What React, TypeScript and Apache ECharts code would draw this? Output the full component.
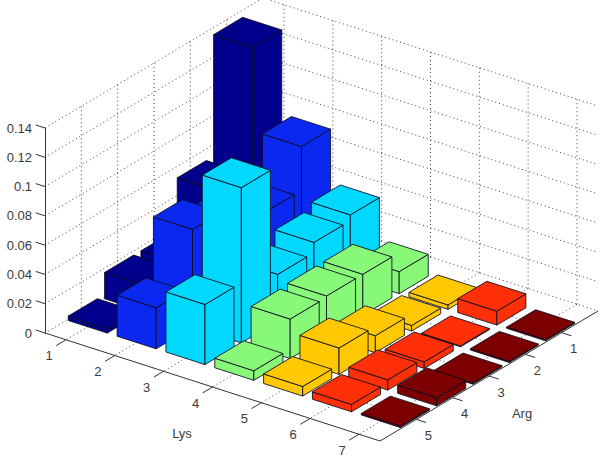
import React, { useEffect, useRef } from "react";
import * as echarts from "echarts";

// Bar heights: each list holds one Lys category, ordered Arg 1..5
const lys1 = [0.136, 0.053, 0.018, 0.018, 0.003];
const lys2 = [0.079, 0.049, 0.058, 0.0667, 0.028];
const lys3 = [0.043, 0.039, 0.032, 0.106, 0.041];
const lys4 = [0.015, 0.028, 0.028, 0.027, 0.0065];
const lys5 = [0.003, 0.0038, 0.0116, 0.018, 0.0065];
const lys6 = [0.0095, 0.0006, 0.0045, 0.007, 0.005];
const lys7 = [0.0008, 0.0008, 0.0008, 0.0055, 0.001];

const lysSeries = [lys1, lys2, lys3, lys4, lys5, lys6, lys7];
const argCategories = [1, 2, 3, 4, 5];
const lysCategories = [1, 2, 3, 4, 5, 6, 7];
const zTicks = [0, 0.02, 0.04, 0.06, 0.08, 0.1, 0.12, 0.14];
const barColors = ["#00008c", "#0a28f0", "#00d8ff", "#88f878", "#ffc800", "#ff3008", "#7d0000"];
const lysTitle = "Lys";
const argTitle = "Arg";

// Oblique projection of the 3-D box onto the plane
const LYS_LO = 0.57, LYS_HI = 7.43, ARG_LO = 0, ARG_HI = 6, Z_MAX = 0.14;
const ORIGIN_X = 45, ORIGIN_Y = 333, Z_PX = 205;
const LYS_DX = 335, LYS_DY = 108, ARG_DX = 218, ARG_DY = -130;
const BAR = 0.4;
const FONT = "13px 'Liberation Sans', Arial, sans-serif";
const TEXT = "#3a3a3a";
const AXIS = "#333333";
const EDGE = "rgba(10,10,30,0.85)";

// returns [pixel x, y in z units] so the value axis maps it
function project(lys: number, arg: number, z: number): [number, number] {
  const t = (lys - LYS_LO) / (LYS_HI - LYS_LO);
  const a = (ARG_HI - arg) / (ARG_HI - ARG_LO);
  const x = ORIGIN_X + LYS_DX * t + ARG_DX * a;
  const dy = LYS_DY * t + ARG_DY * a;
  return [x, z - (dy * Z_MAX) / Z_PX];
}

function App() {
  const ref = useRef<HTMLDivElement>(null);
  useEffect(() => {
    document.body.style.margin = "0";
    const chart = echarts.init(ref.current!, null, { renderer: "svg" });
    const P = (api: any, l: number, a: number, z: number) => api.coord(project(l, a, z));

    const dotted = { stroke: "#404040", lineWidth: 1, lineDash: [1, 3], fill: "none" };
    const solid = { stroke: AXIS, lineWidth: 1, fill: "none" };
    const seg = (p: number[], q: number[], style: any) => ({
      type: "line",
      shape: { x1: p[0], y1: p[1], x2: q[0], y2: q[1] },
      style,
    });
    const label = (text: string | number, x: number, y: number) => ({
      type: "text",
      x,
      y,
      style: { text: String(text), fill: TEXT, font: FONT, align: "center", verticalAlign: "middle" },
    });

    const frame = (_p: any, api: any) => {
      const kids: any[] = [];
      // z gridlines on both walls
      zTicks.forEach((z) => {
        kids.push(seg(P(api, LYS_LO, ARG_HI, z), P(api, LYS_LO, ARG_LO, z), dotted));
        kids.push(seg(P(api, LYS_LO, ARG_LO, z), P(api, LYS_HI, ARG_LO, z), dotted));
      });
      argCategories.forEach((a) => {
        kids.push(seg(P(api, LYS_LO, a, 0), P(api, LYS_LO, a, Z_MAX), dotted));
        kids.push(seg(P(api, LYS_LO, a, 0), P(api, LYS_HI, a, 0), dotted));
        // Arg tick and label
        const s = P(api, LYS_HI, a, 0);
        const e = P(api, LYS_HI + 0.2, a, 0);
        kids.push(seg(s, e, solid));
        kids.push(label(a, s[0] + 12, s[1] + 16));
      });
      lysCategories.forEach((l) => {
        kids.push(seg(P(api, l, ARG_LO, 0), P(api, l, ARG_LO, Z_MAX), dotted));
        kids.push(seg(P(api, l, ARG_LO, 0), P(api, l, ARG_HI, 0), dotted));
        const s = P(api, l, ARG_HI, 0);
        const e = P(api, l, ARG_HI + 0.27, 0);
        kids.push(seg(s, e, solid));
        kids.push(label(l, s[0] - 17, s[1] + 16));
      });
      // z ticks are slanted along the Lys direction
      zTicks.forEach((z) => {
        kids.push(seg(P(api, LYS_LO, ARG_HI, z), P(api, LYS_LO - 0.19, ARG_HI, z), solid));
      });
      // floor edges
      const left = P(api, LYS_LO, ARG_HI, 0);
      const front = P(api, LYS_HI, ARG_HI, 0);
      const right = P(api, LYS_HI, ARG_LO, 0);
      kids.push(seg(left, front, solid));
      kids.push(seg(front, right, solid));
      kids.push(label(lysTitle, 182, 433));
      kids.push(label(argTitle, 522, 413));
      return { type: "group", children: kids };
    };

    const bar = (params: any, api: any) => {
      const lys = params.seriesIndex; // frame series is index 0, Lys n is index n
      const arg = api.value(0);
      const h = api.value(1);
      const l0 = lys - BAR, l1 = lys + BAR, a0 = arg - BAR, a1 = arg + BAR;
      const style = {
        fill: barColors[lys - 1],
        stroke: EDGE,
        lineWidth: 1,
        lineJoin: "round",
      };
      const poly = (pts: number[][]) => ({ type: "polygon", shape: { points: pts }, style });
      return {
        type: "group",
        children: [
          // face towards the Arg-high side
          poly([P(api, l0, a1, 0), P(api, l1, a1, 0), P(api, l1, a1, h), P(api, l0, a1, h)]),
          // face towards the Lys-high side
          poly([P(api, l1, a1, 0), P(api, l1, a0, 0), P(api, l1, a0, h), P(api, l1, a1, h)]),
          // top
          poly([P(api, l0, a0, h), P(api, l1, a0, h), P(api, l1, a1, h), P(api, l0, a1, h)]),
        ],
      };
    };

    chart.setOption({
      animation: false,
      backgroundColor: "#ffffff",
      grid: { left: ORIGIN_X, right: 0, top: ORIGIN_Y - Z_PX, height: Z_PX },
      xAxis: { type: "value", min: ORIGIN_X, max: 600, show: false },
      yAxis: {
        type: "value",
        min: 0,
        max: Z_MAX,
        interval: 0.02,
        splitLine: { show: false },
        axisTick: { show: false },
        axisLine: { show: true, lineStyle: { color: AXIS, width: 1 } },
        axisLabel: { color: TEXT, fontSize: 13, fontFamily: "'Liberation Sans', Arial, sans-serif", margin: 13 },
      },
      series: [
        { type: "custom", renderItem: frame, data: [[0, 0]], clip: false, silent: true, z: 1 },
        ...lysSeries.map((values, i) => ({
          type: "custom",
          name: String(lysCategories[i]),
          renderItem: bar,
          data: values.map((v, j) => [argCategories[j], v]),
          clip: false,
          silent: true,
          z: 2,
        })),
      ],
    });
    return () => chart.dispose();
  }, []);
  return <div ref={ref} style={{ width: 600, height: 462 }} />;
}

export default App;
